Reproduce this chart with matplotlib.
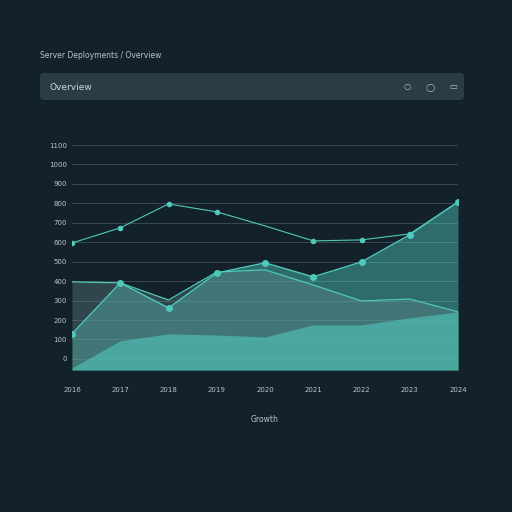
import matplotlib
matplotlib.use("Agg")
import matplotlib.pyplot as plt
from matplotlib.patches import FancyBboxPatch

years = ["2016", "2017", "2018", "2019", "2020", "2021", "2022", "2023", "2024"]
top_line = [596, 674, 797, 756, 684, 607, 612, 643, 807]
main_area = [129, 391, 262, 442, 494, 422, 499, 638, 807]
mid_line = [396, 391, 303, 447, 458, 380, 298, 308, 242]
base_area = [-46, 93, 129, 123, 113, 175, 175, 211, 242]
yticks = list(range(0, 1101, 100))

bg = "#13212a"
teal = "#4fc9bb"
fig = plt.figure(figsize=(5.12, 5.12), dpi=100, facecolor=bg)
fig.text(40/512, 1-56/512, "Server Deployments / Overview", color="#b8c4c8", fontsize=5.5, va="center")
fig.patches.append(FancyBboxPatch((40/512, 1-100/512), 424/512, 27/512, boxstyle="round,pad=0,rounding_size=0.008",
                                  transform=fig.transFigure, facecolor="#2a3c46", edgecolor="none"))
fig.text(50/512, 1-87/512, "Overview", color="#d0d8da", fontsize=6.5, va="center")
for xx, s in [(407, "○"), (430, "◯"), (453, "▭")]:
    fig.text(xx/512, 1-87/512, s, color="#b8c4c8", fontsize=6, va="center", ha="center")

ax = fig.add_axes([72/512, 1-370/512, 386/512, 225/512])
ax.set_facecolor(bg)
ax.set_axisbelow(True)
x = list(range(len(years)))
ymin = -57
ax.fill_between(x, main_area, ymin, color=teal, alpha=0.45, lw=0, zorder=2)
ax.fill_between(x, mid_line, ymin, color="#6a8a8c", alpha=0.35, lw=0, zorder=2)
ax.fill_between(x, base_area, ymin, color=teal, alpha=0.6, lw=0, zorder=2)
ax.plot(x, mid_line, color=teal, lw=0.9, zorder=3)
ax.plot(x, main_area, color=teal, lw=1.0, marker="o", ms=4, zorder=3)
ax.plot(x, top_line, color=teal, lw=0.8, marker="o", ms=3, markevery=[0, 1, 2, 3, 5, 6, 7, 8], zorder=3)
ax.set_xlim(0, len(years)-1)
ax.set_ylim(ymin, 1100)
ax.set_yticks(yticks)
ax.set_yticklabels([str(v) for v in yticks])
ax.set_xticks(x)
ax.set_xticklabels(years)
ax.grid(axis="y", color="#3a4a52", lw=0.7, zorder=0)
ax.tick_params(colors="#b8c4c8", labelsize=5, length=0)
ax.tick_params(axis="x", pad=12)
for s in ax.spines.values():
    s.set_visible(False)
ax.set_xlabel("Growth", color="#b8c4c8", fontsize=5.5, labelpad=16)
fig.savefig("out.png", dpi=100, facecolor=bg)
